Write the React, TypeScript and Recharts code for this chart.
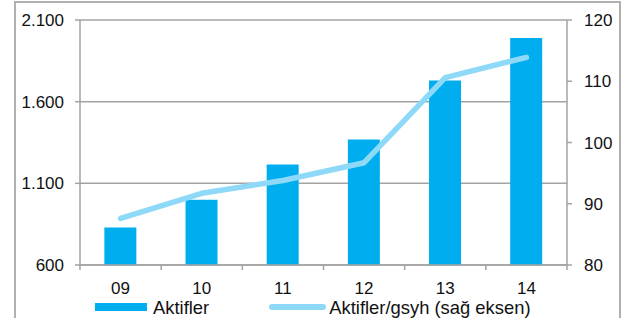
import React from 'react';
import { ComposedChart, Bar, Line, XAxis, YAxis, CartesianGrid, Legend } from 'recharts';

const years = ['09', '10', '11', '12', '13', '14'];
const aktifler = [830, 1000, 1215, 1368, 1730, 1990];
const aktiflerGsyh = [87.6, 91.7, 93.8, 96.7, 110.6, 113.9];
const leftTicks = [600, 1100, 1600, 2100];
const rightTicks = [80, 90, 100, 110, 120];

const data = years.map((y, i) => ({ year: y, aktifler: aktifler[i], oran: aktiflerGsyh[i] }));

const W = 635;
const H = 318;
const LEFT_W = 80;
const RIGHT_W = 68;
const FONT = '"Liberation Sans", Arial, sans-serif';
const GRAY = '#a3a3a3';
const BAR = '#00AEEF';
const LINE = '#8ED8F8';
const HALF_BAND = (W - LEFT_W - RIGHT_W) / years.length / 2;

const fmt = (v: number) => v.toLocaleString('de-DE');

const XTick = (props: any) => {
  const { x, y, payload, index } = props;
  return (
    <g>
      <line x1={x - HALF_BAND} x2={x - HALF_BAND} y1={y} y2={y + 5} stroke={GRAY} strokeWidth={1.5} />
      {index === years.length - 1 && (
        <line x1={x + HALF_BAND} x2={x + HALF_BAND} y1={y} y2={y + 5} stroke={GRAY} strokeWidth={1.5} />
      )}
      <text x={x} y={y + 29} textAnchor="middle" fill="#111" fontSize={17} fontFamily={FONT}>
        {payload.value}
      </text>
    </g>
  );
};

const LegendContent = () => (
  <div
    style={{
      display: 'flex',
      alignItems: 'center',
      height: 22,
      paddingLeft: 95,
      fontFamily: FONT,
      fontSize: 18.4,
      lineHeight: '15px',
      color: '#111',
      boxSizing: 'border-box',
    }}
  >
    <span style={{ display: 'inline-block', width: 52, height: 8, background: BAR }} />
    <span style={{ marginLeft: 6, lineHeight: '15px' }}>Aktifler</span>
    <span
      style={{ display: 'inline-block', width: 57, height: 6, borderRadius: 3, background: LINE, marginLeft: 60 }}
    />
    <span style={{ marginLeft: 3, lineHeight: '15px' }}>Aktifler/gsyh (sağ eksen)</span>
  </div>
);

export default function App() {
  return (
    <div style={{ position: 'absolute', left: 0, top: 0, width: W, height: H, background: '#fff', overflow: 'hidden' }}>
      <div
        style={{
          position: 'absolute',
          left: 14,
          top: 1,
          width: 603,
          height: 340,
          border: '2px solid #b0b0b0',
        }}
      />
      <div style={{ position: 'absolute', left: 0, top: 0 }}>
        <ComposedChart
          width={W}
          height={H}
          data={data}
          margin={{ top: 20, right: 0, left: 0, bottom: 0 }}
          barCategoryGap="30%"
        >
          <CartesianGrid yAxisId="left" vertical={false} stroke={GRAY} strokeWidth={1.5} />
          <XAxis
            dataKey="year"
            height={31}
            tickLine={false}
            tickSize={0}
            tickMargin={0}
            axisLine={{ stroke: GRAY, strokeWidth: 1.5 }}
            tick={<XTick />}
            interval={0}
          />
          <YAxis
            yAxisId="left"
            orientation="left"
            width={LEFT_W}
            domain={[600, 2100]}
            ticks={leftTicks}
            tickFormatter={fmt}
            tickSize={5}
            tickMargin={11}
            tickLine={{ stroke: GRAY, strokeWidth: 1.5 }}
            axisLine={{ stroke: GRAY, strokeWidth: 1.5 }}
            tick={{ fill: '#111', fontSize: 17, fontFamily: FONT }}
            interval={0}
          />
          <YAxis
            yAxisId="right"
            orientation="right"
            width={RIGHT_W}
            domain={[80, 120]}
            ticks={rightTicks}
            tickSize={5}
            tickMargin={12}
            tickLine={{ stroke: GRAY, strokeWidth: 1.5 }}
            axisLine={{ stroke: GRAY, strokeWidth: 1.5 }}
            tick={{ fill: '#111', fontSize: 17, fontFamily: FONT }}
            interval={0}
          />
          <Bar yAxisId="left" dataKey="aktifler" name="Aktifler" fill={BAR} isAnimationActive={false} />
          <Line
            yAxisId="right"
            dataKey="oran"
            name="Aktifler/gsyh (sağ eksen)"
            type="linear"
            stroke={LINE}
            strokeWidth={5.5}
            strokeLinecap="round"
            strokeLinejoin="round"
            dot={false}
            activeDot={false}
            isAnimationActive={false}
          />
          <Legend
            verticalAlign="bottom"
            content={<LegendContent />}
            wrapperStyle={{ left: 0, width: W, height: 22 }}
          />
        </ComposedChart>
      </div>
    </div>
  );
}
